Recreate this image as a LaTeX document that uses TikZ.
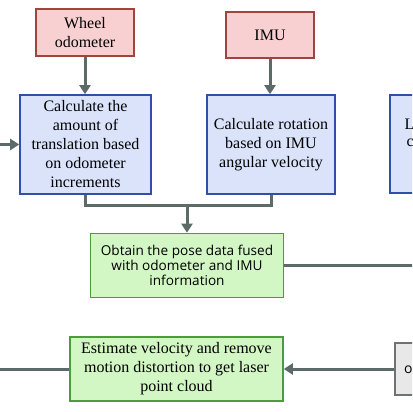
\documentclass[tikz,border=0pt]{standalone}
\usepackage{fontspec}
\setmainfont{Liberation Serif}
\newfontfamily\uisans{Open Sans}
\usetikzlibrary{arrows.meta}
\definecolor{redfill}{HTML}{F9D0D2}
\definecolor{redline}{HTML}{A0443E}
\definecolor{bluefill}{HTML}{DAE3FA}
\definecolor{blueline}{HTML}{2E50A8}
\definecolor{greenfill}{HTML}{D2F6C4}
\definecolor{greenline}{HTML}{4C9C3C}
\definecolor{grayfill}{HTML}{E8E8E8}
\definecolor{grayline}{HTML}{6E7272}
\definecolor{conn}{HTML}{5C6A6A}
\tikzset{
  box/.style={draw, line width=1.6pt, align=center, inner sep=2pt,
    font=\fontsize{16}{19}\selectfont},
  redbox/.style={box, fill=redfill, draw=redline},
  bluebox/.style={box, fill=bluefill, draw=blueline},
  greenbox/.style={box, fill=greenfill, draw=greenline},
  graybox/.style={box, fill=grayfill, draw=grayline},
  conline/.style={draw=conn, line width=3pt},
  conarrow/.style={conline, -{Triangle[length=9pt,width=11pt]}}
}
\begin{document}
\begin{tikzpicture}[x=1pt,y=-1pt]
\useasboundingbox (0,0) rectangle (412,412);
\clip (0,0) rectangle (412,412);
\fill[white] (0,0) rectangle (412,412);
% top sources
\node[redbox, minimum width=98pt, minimum height=47pt] (wheel) at (85,32.5) {Wheel\\odometer};
\node[redbox, minimum width=88pt, minimum height=46pt] (imu) at (270,35) {IMU};
% calculation boxes
\node[bluebox, minimum width=131pt, minimum height=99pt] (trans) at (85.5,144.5)
  {Calculate the\\amount of\\translation based\\on odometer\\increments};
\node[bluebox, minimum width=128pt, minimum height=99pt] (rot) at (271,144.5)
  {Calculate rotation\\based on IMU\\angular velocity};
\node[bluebox, minimum width=130pt, minimum height=98pt] (lbox) at (455,144) {};
\node[anchor=west, inner sep=0pt, font=\fontsize{16}{19}\selectfont] (lt1) at (404.5,124) {L};
\node[anchor=west, inner sep=0pt, font=\fontsize{16}{19}\selectfont] (lt2) at (406.5,143) {c};
% fused pose
\node[greenbox, minimum width=193pt, minimum height=64pt,
  font=\uisans\fontsize{13.6}{15.2}\selectfont] (fuse) at (187,265.5)
  {Obtain the pose data fused\\with odometer and IMU\\information};
% deskew
\node[greenbox, minimum width=213pt, minimum height=64pt,
  font=\fontsize{16}{19}\selectfont] (deskew) at (176.5,369)
  {Estimate velocity and remove\\motion distortion to get laser\\point cloud};
\node[graybox, minimum width=100pt, minimum height=52pt] (gbox) at (445,369) {};
\node[anchor=west, inner sep=0pt, font=\uisans\fontsize{14}{16}\selectfont] (gt) at (404,370) {o};
% free ends
\coordinate (leftin) at (-2,144.5);
\coordinate (rightout) at (414,265.5);
\coordinate (leftout) at (-2,369);
\coordinate (jl) at (85.5,205);
\coordinate (jr) at (271,205);
\coordinate (jmstart) at (187,206);
% connectors
\draw[conarrow] (wheel.south) -- (wheel.south |- trans.north);
\draw[conarrow] (imu.south) -- (imu.south |- rot.north);
\draw[conarrow] (leftin) -- (trans.west);
\draw[conline] (trans.south) -- (jl) -- (jr) -- (rot.south);
\draw[conarrow] (jmstart) -- (fuse.north);
\draw[conline] (fuse.east) -- (rightout);
\draw[conarrow] (gbox.west) -- (deskew.east);
\draw[conline] (deskew.west) -- (leftout);
\end{tikzpicture}
\end{document}
